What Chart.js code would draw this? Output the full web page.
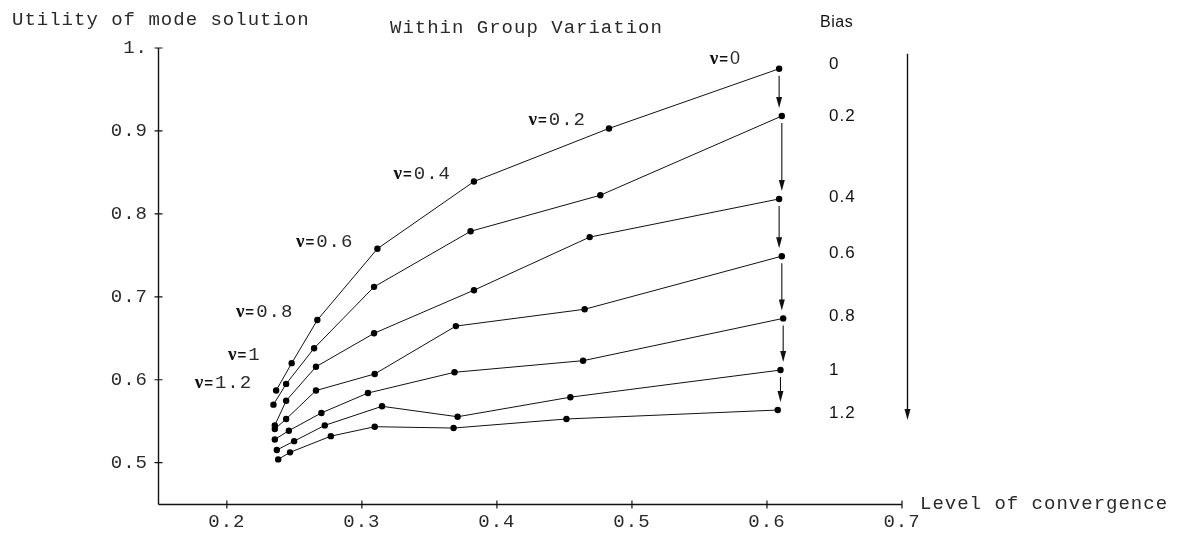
<!DOCTYPE html>
<html><head><meta charset="utf-8">
<script src="https://cdn.jsdelivr.net/npm/chart.js@4.4.1/dist/chart.umd.min.js"></script>
<style>html,body{margin:0;padding:0;background:#fff;}#wrap{width:1185px;height:533px;}</style>
</head><body><div id="wrap"><canvas id="c" width="1185" height="533"></canvas></div>
<script>
// Bias levels (one line each) and ν values (points along each line, ν=0 on the right)
const biasLevels = ['0', '0.2', '0.4', '0.6', '0.8', '1', '1.2'];
const nuValues = ['0', '0.2', '0.4', '0.6', '0.8', '1', '1.2'];

// Level of convergence (x) and Utility of mode solution (y), ordered ν = 0 … 1.2
const conv_b00 = [0.609, 0.483, 0.383, 0.3115, 0.267, 0.248, 0.2365];
const util_b00 = [0.975, 0.903, 0.839, 0.758, 0.672, 0.620, 0.587];
const conv_b02 = [0.611, 0.4766, 0.3805, 0.309, 0.2646, 0.2439, 0.2345];
const util_b02 = [0.918, 0.8225, 0.779, 0.712, 0.638, 0.595, 0.570];
const conv_b04 = [0.609, 0.4687, 0.383, 0.309, 0.266, 0.2439, 0.2355];
const util_b04 = [0.818, 0.772, 0.708, 0.656, 0.6157, 0.5747, 0.545];
const conv_b06 = [0.611, 0.465, 0.3696, 0.3095, 0.266, 0.2439, 0.2355];
const util_b06 = [0.749, 0.685, 0.6647, 0.607, 0.587, 0.5527, 0.5406];
const conv_b08 = [0.612, 0.4638, 0.3686, 0.3045, 0.270, 0.2459, 0.2355];
const util_b08 = [0.674, 0.623, 0.609, 0.584, 0.560, 0.5386, 0.528];
const conv_b10 = [0.610, 0.4544, 0.3709, 0.3149, 0.2725, 0.2498, 0.237];
const util_b10 = [0.6117, 0.579, 0.5554, 0.568, 0.545, 0.526, 0.5153];
const conv_b12 = [0.608, 0.4515, 0.3679, 0.3095, 0.277, 0.2468, 0.238];
const util_b12 = [0.5635, 0.5527, 0.5418, 0.5434, 0.532, 0.5125, 0.504];

const xTicks = [0.2, 0.3, 0.4, 0.5, 0.6, 0.7];
const xTickLabels = ['0.2', '0.3', '0.4', '0.5', '0.6', '0.7'];
const yTicks = [0.5, 0.6, 0.7, 0.8, 0.9, 1.0];
const yTickLabels = ['0.5', '0.6', '0.7', '0.8', '0.9', '1.'];

const convSeries = [conv_b00, conv_b02, conv_b04, conv_b06, conv_b08, conv_b10, conv_b12];
const utilSeries = [util_b00, util_b02, util_b04, util_b06, util_b08, util_b10, util_b12];

// label placement (pixel offsets from the points they annotate)
const nuDx = [-39, -24, -24, -25, -25, -32, -25];
const nuDy = [-5, -3, -3, -2, -3, -3, -3];
const biasDy = [0, 5, 3, 2, 3, 5, 8];

const MONO = '"Liberation Mono", monospace';
const SANS = '"Liberation Sans", Arial, sans-serif';
const INK = '#2a2a2a';

const datasets = biasLevels.map((b, i) => ({
  label: 'Bias ' + b,
  data: convSeries[i].map((cx, j) => ({ x: cx, y: utilSeries[i][j] })),
  showLine: true,
  borderColor: '#111',
  borderWidth: 1,
  pointRadius: 3.2,
  pointBackgroundColor: '#000',
  pointBorderWidth: 0,
  tension: 0,
  clip: false
}));

function findLabel(vals, labels, v) {
  const k = vals.findIndex(t => Math.abs(t - v) < 1e-9);
  return k >= 0 ? labels[k] : '';
}

function arrowDown(ctx, x, y1, y2) {
  ctx.beginPath();
  ctx.moveTo(x, y1);
  ctx.lineTo(x, y2 - 8);
  ctx.stroke();
  ctx.beginPath();
  ctx.moveTo(x, y2);
  ctx.lineTo(x - 3, y2 - 11);
  ctx.lineTo(x + 3, y2 - 11);
  ctx.closePath();
  ctx.fill();
}

const deco = {
  id: 'deco',
  beforeDraw(chart) { chart.ctx.letterSpacing = '1px'; },
  afterDraw(chart) {
    const ctx = chart.ctx, a = chart.chartArea, xs = chart.scales.x, ys = chart.scales.y;
    ctx.save();
    ctx.strokeStyle = '#111';
    ctx.fillStyle = INK;
    ctx.lineWidth = 1.4;
    // axes
    const L = a.left + 0.5, B = a.bottom - 0.5;
    const xEnd = xs.getPixelForValue(xTicks[xTicks.length - 1]);
    const yTop = ys.getPixelForValue(yTicks[yTicks.length - 1]);
    ctx.beginPath();
    ctx.moveTo(L, yTop); ctx.lineTo(L, B);
    ctx.moveTo(L, B); ctx.lineTo(xEnd, B);
    ctx.stroke();
    ctx.lineWidth = 1.2;
    ctx.beginPath();
    yTicks.forEach(v => { const p = ys.getPixelForValue(v); ctx.moveTo(L - 4, p); ctx.lineTo(L + 4, p); });
    xTicks.forEach(v => { const p = xs.getPixelForValue(v); ctx.moveTo(p, B - 4); ctx.lineTo(p, B + 4); });
    ctx.stroke();

    // titles
    ctx.letterSpacing = '1px';
    ctx.textBaseline = 'alphabetic';
    ctx.textAlign = 'left';
    ctx.font = '19px ' + MONO;
    ctx.fillText('Utility of mode solution', 12, 25);
    ctx.fillText('Within Group Variation', 390, 33);
    ctx.fillText('Level of convergence', a.right + 18, a.bottom + 4);

    ctx.fillStyle = '#111';
    ctx.font = '16px ' + SANS;
    ctx.letterSpacing = '0.5px';
    ctx.fillText('Bias', 820, 27);

    // bias labels + small arrows
    const lastIdx = 0; // ν = 0 point of each line
    const pts = convSeries.map((c, i) => ({
      x: xs.getPixelForValue(c[lastIdx]),
      y: ys.getPixelForValue(utilSeries[i][lastIdx])
    }));
    ctx.font = '17px ' + SANS;
    ctx.letterSpacing = '1px';
    biasLevels.forEach((b, i) => {
      ctx.fillText(b, 829, pts[i].y + biasDy[i]);
    });
    ctx.lineWidth = 1.1;
    ctx.strokeStyle = '#111';
    ctx.fillStyle = '#111';
    for (let i = 0; i < pts.length - 1; i++) {
      arrowDown(ctx, pts[i].x, pts[i].y + 7, pts[i + 1].y - 8);
    }
    // long bias arrow
    ctx.lineWidth = 1.4;
    const bigX = a.right + 5.5;
    arrowDown(ctx, bigX, pts[0].y - 15, pts[pts.length - 1].y + 10);

    // ν labels on the top (bias 0) line
    ctx.fillStyle = INK;
    nuValues.forEach((nv, j) => {
      const px = xs.getPixelForValue(conv_b00[j]);
      const py = ys.getPixelForValue(util_b00[j]);
      const right = px + nuDx[j], base = py + nuDy[j];
      ctx.letterSpacing = '0px';
      const f1 = 'bold 19px "Liberation Serif", serif';
      const f2 = 'bold 15px ' + SANS;
      const f3 = j === 0 ? '18px ' + SANS : '19px ' + MONO;
      ctx.font = f1; const w1 = ctx.measureText('ν').width;
      ctx.font = f2; const w2 = ctx.measureText('=').width;
      ctx.font = f3; ctx.letterSpacing = j === 0 ? '0px' : '1px';
      const w3 = ctx.measureText(nv).width - (j === 0 ? 0 : 1);
      let xx = right - (w1 + 1 + w2 + 2 + w3);
      ctx.letterSpacing = '0px';
      ctx.fillStyle = '#111';
      ctx.font = f1; ctx.fillText('ν', xx, base); xx += w1 + 1;
      ctx.font = f2; ctx.fillText('=', xx, base); xx += w2 + 2;
      ctx.fillStyle = INK;
      ctx.font = f3; ctx.letterSpacing = j === 0 ? '0px' : '1px';
      ctx.fillText(nv, xx, base);
    });
    ctx.restore();
  }
};

new Chart(document.getElementById('c'), {
  type: 'scatter',
  data: { datasets },
  options: {
    responsive: false,
    animation: false,
    devicePixelRatio: 1,
    layout: { padding: { left: 0, right: 283, top: 48, bottom: 0 } },
    plugins: { legend: { display: false }, tooltip: { enabled: false } },
    scales: {
      x: {
        type: 'linear', min: 0.149, max: 0.7,
        afterBuildTicks: s => { s.ticks = xTicks.map(v => ({ value: v })); },
        afterFit: s => { s.height = 28; },
        grid: { display: false, drawTicks: false },
        border: { display: false },
        ticks: {
          font: { family: MONO, size: 19 }, color: INK, padding: 6,
          maxRotation: 0, autoSkip: false,
          callback: v => findLabel(xTicks, xTickLabels, v)
        }
      },
      y: {
        type: 'linear', min: 0.449, max: 1.0,
        afterBuildTicks: s => { s.ticks = yTicks.map(v => ({ value: v })); },
        afterFit: s => { s.width = 158; },
        grid: { display: false, drawTicks: false },
        border: { display: false },
        ticks: {
          font: { family: MONO, size: 19 }, color: INK, padding: 10,
          autoSkip: false,
          callback: v => findLabel(yTicks, yTickLabels, v)
        }
      }
    }
  },
  plugins: [deco]
});
</script>
</body></html>
